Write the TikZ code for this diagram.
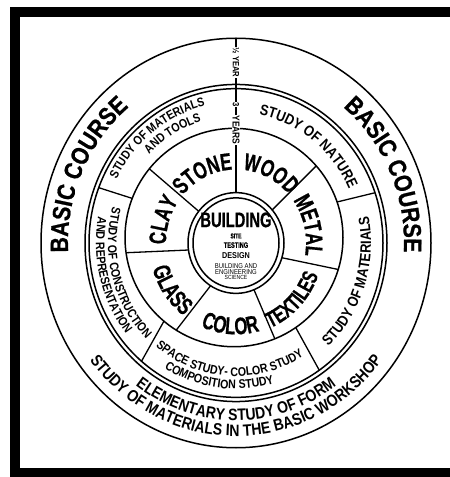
\documentclass[tikz,border=0pt]{standalone}
\usepackage{fontspec}
\setmainfont{Liberation Sans}[FakeStretch=0.85]
\newfontfamily\condfont{Liberation Sans}[FakeStretch=0.7,FakeBold=0.6]
\newfontfamily\heavyfont{Liberation Sans}[FakeStretch=0.85,FakeBold=0.8]
\usetikzlibrary{decorations.text,calc}
\newcommand\coursefont{\heavyfont\bfseries\fontsize{25}{25}\selectfont}
\newcommand\workfont{\bfseries\fontsize{16.5}{16.5}\selectfont}
\newcommand\studyfont{\bfseries\fontsize{15}{15}\selectfont}
\newcommand\smallstudyfont{\bfseries\fontsize{12.5}{12.5}\selectfont}
\newcommand\matfont{\condfont\bfseries\fontsize{24}{24}\selectfont}

\begin{document}
\begin{tikzpicture}[x=1pt,y=1pt,
  ring/.style={line width=1.5pt},
  spoke/.style={line width=1.3pt},
  along/.style={decorate,decoration={text along path,text align=center,text={#1}}},
  yearlabel/.style={fill=white,inner sep=0.6pt,rotate=-90,font=\bfseries\fontsize{9}{9}\selectfont},
  centrelabel/.style={inner sep=0pt,font=\condfont\bfseries\fontsize{7}{7}\selectfont}]
\useasboundingbox (0,0) rectangle (450,477);
\begin{scope}
  \clip (0,0) rectangle (450,477);
  \draw[line width=10pt] (15,4) rectangle (462,465);
\end{scope}
\begin{scope}[shift={(236,234)},yscale=1.05]
  \coordinate (hub) at (0,0);
  \coordinate (shop) at (-2,5.2);
  \draw[ring] (hub) circle[radius=195];
  \draw[ring] (hub) circle[radius=151];
  \draw[ring] (hub) circle[radius=147];
  \draw[ring] (shop) ellipse[x radius=109,y radius=104];
  \draw[ring] (hub) circle[radius=48];
  \draw[ring] (hub) circle[radius=43];
  \draw[spoke] (90:48) -- (90:195);
  \foreach \a in {41,-17,-68,-122,188,141}
    \draw[spoke] (\a:48) -- ($(shop)+(\a:109 and 104)$);
  \foreach \a in {19,-55.5,-130,159}
    \draw[spoke] ($(shop)+(\a:109 and 104)$) -- (\a:147);
  % outer ring
  \path[along={|\coursefont|BASIC COURSE}] (201:168) arc[start angle=201,end angle=111,radius=168];
  \path[along={|\coursefont|BASIC COURSE}] (69:168) arc[start angle=69,end angle=-21,radius=168];
  \path[along={|\workfont|ELEMENTARY STUDY OF FORM}] (215:169) arc[start angle=215,end angle=325,radius=169];
  \path[along={|\workfont|STUDY OF MATERIALS IN THE BASIC WORKSHOP}] (200:184) arc[start angle=200,end angle=340,radius=184];
  % studies
  \path[along={|\studyfont|STUDY OF NATURE}] (86:124) arc[start angle=86,end angle=18,radius=124];
  \path[along={|\smallstudyfont|STUDY OF MATERIALS}] (162:134) arc[start angle=162,end angle=94,radius=134];
  \path[along={|\smallstudyfont|AND TOOLS}] (150:121) arc[start angle=150,end angle=92,radius=121];
  \path[along={|\studyfont|STUDY OF MATERIALS}] (-56:135) arc[start angle=-56,end angle=20,radius=135];
  \path[along={|\smallstudyfont|SPACE STUDY- COLOR STUDY}] (226:127) arc[start angle=226,end angle=307,radius=127];
  \path[along={|\smallstudyfont|COMPOSITION STUDY}] (232:139) arc[start angle=232,end angle=293,radius=139];
  \path[along={|\smallstudyfont|STUDY OF CONSTRUCTION}] (158:128) arc[start angle=158,end angle=232,radius=128];
  \path[along={|\smallstudyfont|AND REPRESENTATION}] (160:140) arc[start angle=160,end angle=228,radius=140];
  % workshops
  \path[along={|\matfont|STONE}] (156:70) arc[start angle=156,end angle=76,radius=70];
  \path[along={|\matfont|WOOD}] (103:70) arc[start angle=103,end angle=23,radius=70];
  \path[along={|\matfont|METAL}] (53:70) arc[start angle=53,end angle=-27,radius=70];
  \path[along={|\matfont|CLAY}] (203:70) arc[start angle=203,end angle=123,radius=70];
  \path[along={|\condfont\bfseries\fontsize{22}{22}\selectfont|TEXTILES}] (-84:88) arc[start angle=-84,end angle=-4,radius=88];
  \path[along={|\matfont|COLOR}] (-134:87) arc[start angle=-134,end angle=-54,radius=87];
  \path[along={|\matfont|GLASS}] (-185:87) arc[start angle=-185,end angle=-105,radius=87];
  % years
  \node[yearlabel] (half) at (90:172) {½ YEAR};
  \node[yearlabel] (three) at (90:132) {3};
  \node[yearlabel,font=\bfseries\fontsize{10}{10}\selectfont] (years) at (90:107.6) {YEARS};
  % centre
  \node[inner sep=0pt,font=\condfont\bfseries\fontsize{21}{21}\selectfont] (building) at (0,22) {BUILDING};
  \node[centrelabel] (site) at (0,6.7) {SITE};
  \node[centrelabel,font=\condfont\bfseries\fontsize{8}{8}\selectfont] (testing) at (0,-2) {TESTING};
  \node[centrelabel,font=\bfseries\fontsize{8.5}{8.5}\selectfont] (design) at (0,-12) {DESIGN};
  \node[centrelabel,font=\fontsize{7}{7}\selectfont] (bldg) at (0,-22) {BUILDING AND};
  \node[centrelabel,font=\fontsize{7}{7}\selectfont] (engineering) at (0,-27.5) {ENGINEERING};
  \node[centrelabel,font=\fontsize{6}{6}\selectfont] (science) at (0,-33) {SCIENCE};
\end{scope}
\end{tikzpicture}
\end{document}
